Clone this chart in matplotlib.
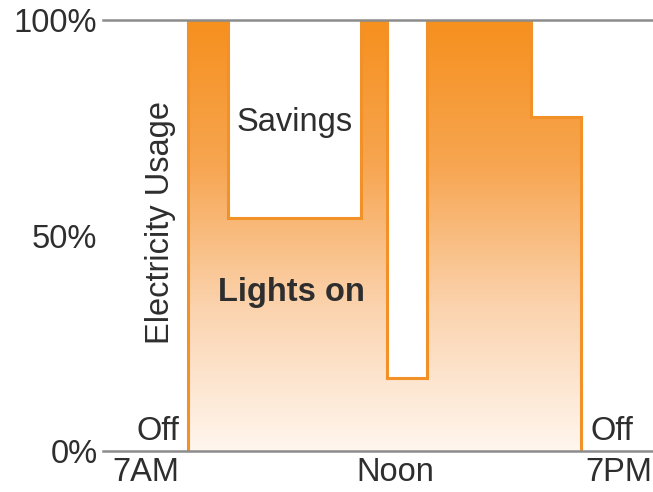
import numpy as np
import matplotlib.pyplot as plt
from matplotlib.patches import Polygon
from matplotlib.colors import LinearSegmentedColormap

plt.rcParams['font.family'] = ['Liberation Sans', 'DejaVu Sans']

# step edges in hours (7AM .. 7PM) and usage level for each step
edges = [7.0, 8.22, 12.28, 13.08, 14.3, 17.47, 19.0]
usage = [1.0, 0.54, 1.0, 0.17, 1.0, 0.775]

ytick_vals = [0, 0.5, 1.0]
ytick_labels = ["0%", "50%", "100%"]

text_col = "#2e2e2e"
orange = "#F39129"

# outline of the step area
xs = [edges[0]]
ys = [0.0]
for i, u in enumerate(usage):
    xs += [edges[i], edges[i + 1]]
    ys += [u, u]
xs.append(edges[-1])
ys.append(0.0)

fig = plt.figure(figsize=(6.53, 4.92), dpi=100)
ax = fig.add_axes([103 / 653, 41 / 492, 550 / 653, 431 / 492])
ax.set_xlim(7 - 85 / 32.75, 7 + 465 / 32.75)
ax.set_ylim(0, 1)

cmap = LinearSegmentedColormap.from_list("usage", ["#FFF6EE", "#FBD3AE", "#F7A550", "#F6901E"])
grad = np.linspace(0, 1, 256).reshape(-1, 1)
im = ax.imshow(grad, extent=[edges[0], edges[-1], 0, 1], origin="lower",
               cmap=cmap, aspect="auto", interpolation="bilinear", zorder=1)
poly = Polygon(np.column_stack([xs, ys]), closed=True, facecolor="none", edgecolor="none")
ax.add_patch(poly)
im.set_clip_path(poly)
ax.plot(xs, ys, color=orange, lw=2.2, zorder=2, solid_joinstyle="miter")

for side in ["left", "right"]:
    ax.spines[side].set_visible(False)
for side in ["top", "bottom"]:
    ax.spines[side].set_color("#8c8c8c")
    ax.spines[side].set_linewidth(1.8)
    ax.spines[side].set_zorder(3)

fs = 23.5
ax.set_xticks([])
ax.set_yticks(ytick_vals)
ax.set_yticklabels(ytick_labels, fontsize=fs, color=text_col)
ax.tick_params(axis="y", length=0, pad=4)

ax.text(6.15, 0.53, "Electricity Usage", rotation=90, ha="center", va="center",
        fontsize=fs, color=text_col)
ax.text(10.27, 0.763, "Savings", ha="center", va="center", fontsize=fs, color=text_col)
ax.text(10.15, 0.367, "Lights on", ha="center", va="center", fontsize=fs,
        color=text_col, fontweight="bold")
ax.text(6.08, 0.045, "Off", ha="center", va="center", fontsize=fs, color=text_col)
ax.text(19.95, 0.045, "Off", ha="center", va="center", fontsize=fs, color=text_col)
ax.text(5.72, -0.05, "7AM", ha="center", va="center", fontsize=fs, color=text_col, clip_on=False)
ax.text(13.32, -0.05, "Noon", ha="center", va="center", fontsize=fs, color=text_col, clip_on=False)
ax.text(19.12, -0.05, "7PM", ha="left", va="center", fontsize=fs, color=text_col, clip_on=False)

fig.savefig("out.png", dpi=100)
